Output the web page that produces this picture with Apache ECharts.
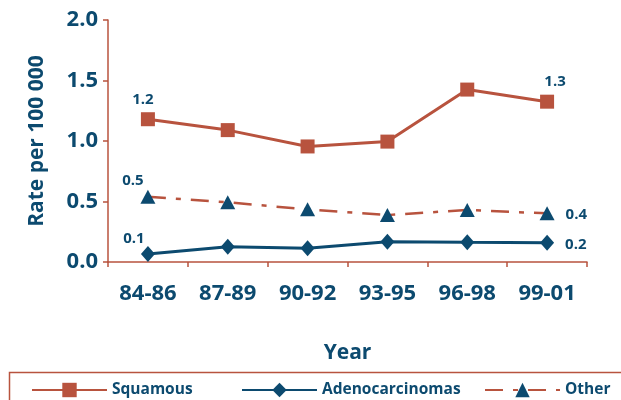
<!DOCTYPE html>
<html>
<head>
<meta charset="utf-8">
<script src="https://cdn.jsdelivr.net/npm/echarts@6/dist/echarts.min.js"></script>
<style>
  html, body { margin: 0; padding: 0; background: #fff; }
  #chart { width: 621px; height: 400px; }
</style>
</head>
<body>
<div id="chart"></div>
<script>
// Rates per 100 000 by three-year period
const years = ['84-86', '87-89', '90-92', '93-95', '96-98', '99-01'];
const squamous = [1.18, 1.09, 0.955, 0.995, 1.425, 1.325];
const adenocarcinomas = [0.066, 0.126, 0.113, 0.168, 0.163, 0.16];
const other = [0.54, 0.493, 0.435, 0.388, 0.43, 0.402];
const yTicks = [0, 0.5, 1.0, 1.5, 2.0];

const RED = '#b8533e';
const NAVY = '#0c4a6f';
const FONT = 'Open Sans';

const valueLabel = (position, offset) => ({
  show: true,
  position: position,
  offset: offset,
  color: NAVY,
  fontFamily: FONT,
  fontWeight: 'bold',
  fontSize: 15,
  formatter: p => p.value.toFixed(1)
});

// Label the first and last point of each series with its rounded value
function withEndLabels(values, first, last) {
  return values.map((v, i) => {
    if (i === 0) return { value: v, label: first };
    if (i === values.length - 1) return { value: v, label: last };
    return v;
  });
}

const chart = echarts.init(document.getElementById('chart'), null, { renderer: 'canvas' });

const legendText = { color: NAVY, fontFamily: FONT, fontWeight: 'bold', fontSize: 15.5 };
const legendBase = { top: 377, itemWidth: 75, itemHeight: 18, itemGap: 10, textStyle: legendText };

chart.setOption({
  animation: false,
  grid: { left: 108, right: 34, top: 20, bottom: 138 },
  legend: [
    Object.assign({ left: 26, data: ['Squamous'] }, legendBase),
    Object.assign({ left: 236, data: ['Adenocarcinomas'] }, legendBase),
    Object.assign({ left: 479, data: ['Other'] }, legendBase)
  ],
  graphic: [{
    type: 'rect',
    shape: { x: 9.5, y: 372.5, width: 700, height: 60 },
    style: { fill: 'none', stroke: RED, lineWidth: 1.5 },
    silent: true
  }],
  xAxis: {
    type: 'category',
    data: years,
    boundaryGap: true,
    name: 'Year',
    nameLocation: 'middle',
    nameGap: 81,
    nameTextStyle: { color: NAVY, fontFamily: FONT, fontWeight: 'bold', fontSize: 21 },
    axisLine: { lineStyle: { color: RED, width: 1.5 } },
    axisTick: { show: true, length: 5, lineStyle: { color: RED, width: 1.5 } },
    axisLabel: { color: NAVY, fontFamily: FONT, fontWeight: 'bold', fontSize: 22, margin: 21 },
    splitLine: { show: false }
  },
  yAxis: {
    type: 'value',
    min: yTicks[0],
    max: yTicks[yTicks.length - 1],
    interval: 0.5,
    name: 'Rate per 100 000',
    nameLocation: 'middle',
    nameGap: 60,
    nameRotate: 90,
    nameTextStyle: { color: NAVY, fontFamily: FONT, fontWeight: 'bold', fontSize: 21 },
    axisLine: { show: true, lineStyle: { color: RED, width: 1.5 } },
    axisTick: { show: true, length: 5, lineStyle: { color: RED, width: 1.5 } },
    axisLabel: {
      color: NAVY, fontFamily: FONT, fontWeight: 'bold', fontSize: 22, margin: 10,
      formatter: v => v.toFixed(1)
    },
    splitLine: { show: false }
  },
  series: [
    {
      name: 'Squamous',
      type: 'line',
      data: withEndLabels(squamous, valueLabel('top', [-5, 0]), valueLabel('top', [8, 0])),
      symbol: 'rect',
      symbolSize: 14,
      itemStyle: { color: RED },
      lineStyle: { color: RED, width: 3 },
      z: 3
    },
    {
      name: 'Adenocarcinomas',
      type: 'line',
      data: withEndLabels(adenocarcinomas, valueLabel('top', [-14, 5]), valueLabel('right', [6, 2])),
      symbol: 'diamond',
      symbolSize: [14, 16],
      itemStyle: { color: NAVY },
      lineStyle: { color: NAVY, width: 3 },
      z: 3
    },
    {
      name: 'Other',
      type: 'line',
      data: withEndLabels(other, valueLabel('top', [-15, 4]), valueLabel('right', [6, 1])),
      symbol: 'triangle',
      symbolSize: [15, 14],
      itemStyle: { color: NAVY },
      lineStyle: { color: RED, width: 2.5, type: [18, 10, 5, 10] },
      z: 2
    }
  ]
});
</script>
</body>
</html>
